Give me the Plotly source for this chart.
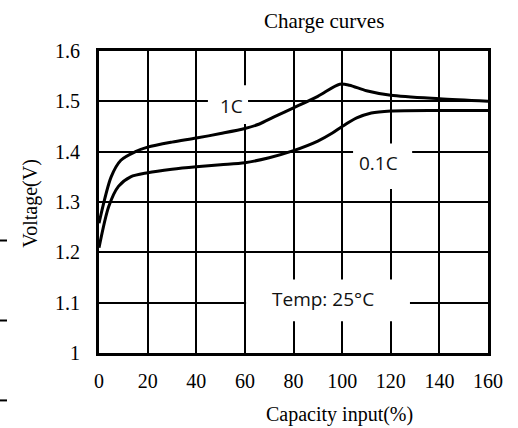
import plotly.graph_objects as go

# ---- data ----
cap_1c = [0, 5, 9, 15, 20, 30, 40, 50, 60, 66, 72, 80, 90, 99, 103, 110, 120, 140, 160]
volt_1c = [1.258, 1.350, 1.383, 1.400, 1.409, 1.419, 1.427, 1.436, 1.446, 1.455, 1.469,
           1.487, 1.510, 1.534, 1.532, 1.521, 1.512, 1.505, 1.500]

cap_01c = [0, 4, 8, 13, 20, 30, 40, 50, 60, 70, 80, 90, 96, 100, 106, 112, 120, 140, 160]
volt_01c = [1.209, 1.291, 1.331, 1.350, 1.358, 1.365, 1.370, 1.374, 1.378, 1.388, 1.402,
            1.421, 1.437, 1.450, 1.467, 1.477, 1.481, 1.482, 1.482]

x_ticks = [0, 20, 40, 60, 80, 100, 120, 140, 160]
y_ticks = [1.0, 1.1, 1.2, 1.3, 1.4, 1.5, 1.6]
y_tick_labels = ["1", "1.1", "1.2", "1.3", "1.4", "1.5", "1.6"]

title_text = "Charge curves"
x_title = "Capacity input(%)"
y_title = "Voltage(V)"

serif = "Liberation Serif, Times New Roman, serif"
sans = "Open Sans, Noto Sans, sans-serif"

fig = go.Figure()
fig.add_trace(go.Scatter(x=cap_1c, y=volt_1c, mode="lines", name="1C",
                         line=dict(color="black", width=3, shape="spline", smoothing=0.8)))
fig.add_trace(go.Scatter(x=cap_01c, y=volt_01c, mode="lines", name="0.1C",
                         line=dict(color="black", width=3, shape="spline", smoothing=0.8)))

# white label boxes (cover grid lines)
boxes = [(44.8, 61.3, 1.455, 1.532), (104.5, 128.8, 1.326, 1.416), (60.5, 127.9, 1.063, 1.146)]
for x0, x1, y0, y1 in boxes:
    fig.add_shape(type="rect", xref="x", yref="y", x0=x0, x1=x1, y0=y0, y1=y1,
                  fillcolor="white", line=dict(width=0), layer="between")

labels = [("1C", 54.7, 1.491), ("0.1C", 114.8, 1.378), ("Temp: 25°C", 92.1, 1.108)]
for t, x, y in labels:
    fig.add_annotation(text=t, x=x, y=y, xref="x", yref="y", showarrow=False,
                       xanchor="center", yanchor="middle",
                       font=dict(family=sans, size=19, color="#111"))

# stray dashes at the left edge of the reference image
for yp in [0.3725, 0.1076, -0.157]:
    fig.add_shape(type="line", xref="paper", yref="paper", x0=-0.2545, x1=-0.2365,
                  y0=yp, y1=yp, line=dict(color="black", width=2))

fig.add_annotation(text=title_text, xref="paper", yref="paper", x=0.578, y=1.098,
                   xanchor="center", yanchor="middle",
                   showarrow=False, font=dict(family=serif, size=21, color="black"))
fig.add_annotation(text=x_title, xref="paper", yref="paper", x=0.617, y=-0.204,
                   xanchor="center", yanchor="middle",
                   showarrow=False, font=dict(family=serif, size=20, color="black"))
fig.add_annotation(text=y_title, xref="paper", yref="paper", x=-0.177, y=0.495,
                   xanchor="center", yanchor="middle",
                   textangle=-90, showarrow=False, font=dict(family=serif, size=20, color="black"))

fig.update_xaxes(range=[0, 160], tickvals=x_ticks, showgrid=True, gridcolor="black",
                 gridwidth=2, zeroline=False, showline=True, linecolor="black",
                 linewidth=3, mirror=True, ticks="", ticklabelstandoff=8,
                 tickfont=dict(family=serif, size=20, color="black"))
fig.update_yaxes(range=[1.0, 1.6], tickvals=y_ticks, ticktext=y_tick_labels, showgrid=True,
                 gridcolor="black", gridwidth=2, zeroline=False, showline=True,
                 linecolor="black", linewidth=3, mirror=True, ticks="", ticklabelstandoff=12,
                 tickfont=dict(family=serif, size=20, color="black"))

fig.update_layout(width=518, height=428, margin=dict(l=99, r=30, t=51, b=75, autoexpand=False),
                  paper_bgcolor="white", plot_bgcolor="white", showlegend=False)

fig.write_html("out.html", config={"displayModeBar": False},
               post_script="document.body.style.margin='0';")
